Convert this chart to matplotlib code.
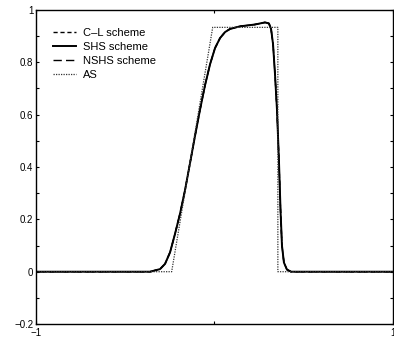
import numpy as np
import matplotlib
matplotlib.use("Agg")
import matplotlib.pyplot as plt

plt.rcParams['font.family'] = ['Liberation Sans', 'DejaVu Sans']

# numerical solution (the three schemes lie on top of each other)
num_x = [-1.0, -0.361, -0.305, -0.277, -0.249, -0.221, -0.193, -0.165, -0.137,
         -0.109, -0.081, -0.053, -0.025, 0.003, 0.031, 0.059, 0.087, 0.143,
         0.227, 0.283, 0.305, 0.317, 0.328, 0.339, 0.350, 0.361, 0.370, 0.378,
         0.389, 0.406, 0.429, 1.0]
num_y = [0.0, 0.0, 0.010, 0.030, 0.074, 0.145, 0.222, 0.312, 0.415,
         0.519, 0.619, 0.712, 0.792, 0.854, 0.892, 0.915, 0.927, 0.937,
         0.944, 0.952, 0.948, 0.927, 0.869, 0.754, 0.619, 0.427, 0.235, 0.100,
         0.035, 0.008, 0.0, 0.0]

# analytic solution
as_x = [-1.0, -0.24, -0.01, 0.355, 0.355, 1.0]
as_y = [0.0, 0.0, 0.933, 0.933, 0.0, 0.0]

yticks = np.round(np.arange(-0.2, 1.01, 0.1), 1)
ylabels = ['\u22120.2', '', '0', '', '0.2', '', '0.4', '', '0.6', '', '0.8', '', '1']
xticks = [-1, 0, 1]
xlabels = ['\u22121', '', '1']

fig = plt.figure(figsize=(3.94, 3.39), dpi=100)
ax = fig.add_axes([0.0914, 0.044, 0.906, 0.927])

ax.plot(num_x, num_y, color='black', lw=1.0, ls=(0, (3, 2)), label='C\u2013L scheme')
ax.plot(num_x, num_y, color='black', lw=1.4, ls='-', label='SHS scheme')
ax.plot(num_x, num_y, color='black', lw=1.0, ls=(0, (6, 3)), label='NSHS scheme')
ax.plot(as_x, as_y, color='#333333', lw=0.9, ls=(0, (1, 1)), label='AS')

ax.set_xlim(-1, 1)
ax.set_ylim(-0.2, 1.0)
ax.set_xticks(xticks)
ax.set_xticklabels(xlabels)
ax.set_yticks(yticks)
ax.set_yticklabels(ylabels)
ax.tick_params(direction='in', length=2.5, width=0.8, top=True, right=True,
               labelsize=7, pad=2)
ax.tick_params(axis='x', pad=3)
for s in ax.spines.values():
    s.set_linewidth(1.0)

leg = ax.legend(loc='upper left', frameon=False, fontsize=8,
                bbox_to_anchor=(0.025, 0.968), handlelength=2.1,
                handletextpad=0.62, labelspacing=0.37, borderaxespad=0.3)

fig.savefig('out.png', dpi=100)
